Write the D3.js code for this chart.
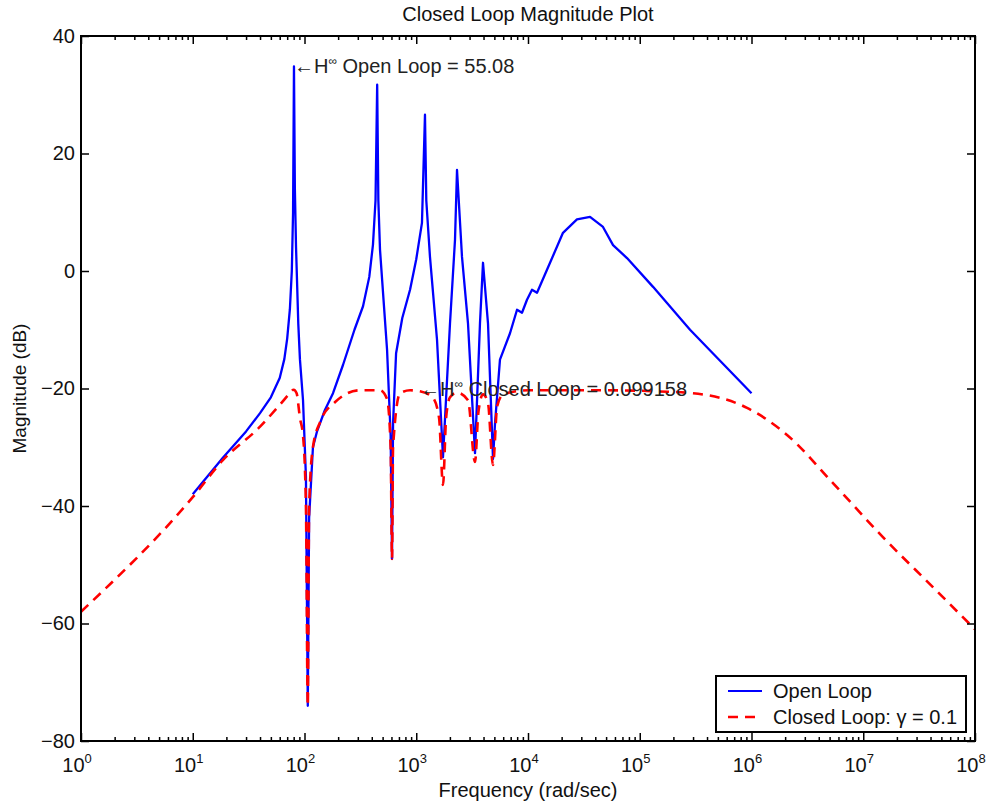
<!DOCTYPE html>
<html>
<head>
<meta charset="utf-8">
<script src="https://cdn.jsdelivr.net/npm/d3@7"></script>
<style>
	body { margin: 0; background: #fff; }
	svg text { font-family: "Liberation Sans", Arial, sans-serif; fill: #111; }
</style>
</head>
<body>
<div id="chart"></div>
<script>
// open loop (blue) - frequency in rad/sec, magnitude in dB
const open_freq = [10, 18.6, 30, 40, 50, 60, 66, 70, 74, 77, 79, 80.5, 82, 84, 88, 91, 97, 103, 107, 110, 119, 129, 152, 180, 221, 280, 334, 380, 410, 432, 447, 458, 474, 510, 548, 590, 607, 620, 660, 750, 880, 1000, 1125, 1197, 1230, 1327, 1534, 1735, 2005, 2222, 2316, 2567, 2904, 3356, 3718, 3957, 4386, 4862, 5070, 5612, 6902, 7977, 8837, 9795, 10860, 12040, 14790, 20560, 27420, 35890, 46900, 57680, 76900, 131500, 281800, 1000000];
const open_db = [-38, -31.8, -27.3, -24.2, -21.5, -18.2, -15, -11.5, -6.5, 0, 10, 34.82, 14, 4, -9, -15, -22, -35, -74, -42, -30, -27.4, -23.7, -20.8, -16, -10, -6, -1, 4.5, 12, 31.7, 12, 3.6, -5, -13.4, -28, -49, -26, -14, -8, -3.2, 2, 8.2, 26.6, 12, 2.4, -11.7, -31.7, -8.9, 5.3, 17.2, 2.4, -8.9, -31, -8.9, 1.4, -8.9, -32, -25.9, -15.1, -10.6, -6.6, -7.1, -4.9, -3.2, -3.7, 0.2, 6.5, 8.8, 9.2, 7.5, 4.4, 2.2, -2.7, -10, -20.8];

// closed loop (red dashed)
const closed_freq = [1, 10, 18.6, 40, 60, 74, 80, 85, 91, 97, 103, 107, 110, 119, 138, 188, 314, 474, 548, 590, 607, 620, 716, 880, 1100, 1400, 1600, 1735, 1850, 2005, 2316, 2904, 3356, 3600, 3957, 4386, 4862, 5300, 6000, 10000, 50000, 150000, 300000, 912000, 2080000, 5360000, 15000000, 42000000, 100000000];
const closed_db = [-58, -38.5, -32.2, -26.5, -22.8, -20.8, -20.2, -20.8, -25, -28, -40, -74, -40, -30, -25.7, -22.3, -20.3, -20.3, -21.8, -30, -49, -30, -20.8, -20.3, -20.5, -21.5, -25, -36.4, -25, -21.5, -20.7, -22, -32.5, -24, -21, -22.5, -33, -23, -21, -20.3, -20.3, -20.5, -20.8, -23.3, -27.9, -36.1, -45.3, -53.8, -61];

// axes
const x_domain = [1, 1e8];
const y_ticks = [-80, -60, -40, -20, 0, 20, 40];
const decades = [0, 1, 2, 3, 4, 5, 6, 7, 8];

// text labels
const title = "Closed Loop Magnitude Plot";
const x_label = "Frequency (rad/sec)";
const y_label = "Magnitude (dB)";
const legend_labels = ["Open Loop", "Closed Loop: \u03b3 = 0.1"];

// H-infinity annotations: [frequency, dB, text]
const notes = [
	[80.5, 34.82, " Open Loop = 55.08"],
	[1080, -20.07, " Closed Loop = 0.099158"]
];

class mag_chart {

	constructor(opts) {
		this.element = opts.element;
		this.draw();
	}

	draw() {
		this.margin = {
			top: 36,
			right: 17,
			bottom: 64,
			left: 81};

		this.width = 992 - this.margin.left - this.margin.right;
		this.height = 805 - this.margin.top - this.margin.bottom;

		var anchor = d3.select(this.element);
		anchor.html("");

		this.root = anchor.append("svg")
					.attr("width", 992)
					.attr("height", 805);
		this.svg = this.root.append("g")
					.attr("transform", `translate(${this.margin.left},${this.margin.top})`);

		this.create_scales();
		this.create_shapes();
		this.create_axes();
		this.create_labels();
		this.create_legend();
	}

	create_scales() {
		this.x_scale = d3.scaleLog()
						.domain(x_domain)
						.range([0, this.width]);

		this.y_scale = d3.scaleLinear()
						.domain([-80, 40])
						.range([this.height, 0]);
	}

	create_axes() {
		let x = this.x_scale;
		let all_ticks = x.ticks();
		let major = all_ticks.filter((d) => Math.abs(Math.log10(d) - Math.round(Math.log10(d))) < 1e-9);
		let minor = all_ticks.filter((d) => major.indexOf(d) < 0);

		// minor + major ticks on bottom and top, pointing inward
		let sides = [
			[d3.axisBottom, this.height],
			[d3.axisTop, 0]
		];
		sides.forEach(([ax, ty]) => {
			this.svg.append("g")
				.attr("class", "x minor")
				.attr("transform", `translate(0,${ty})`)
				.call(ax(x).tickValues(minor).tickSize(-4).tickFormat(""));
			this.svg.append("g")
				.attr("class", "x major")
				.attr("transform", `translate(0,${ty})`)
				.call(ax(x).tickValues(major).tickSize(-8).tickFormat(""));
		});

		this.svg.append("g")
			.attr("class", "y axis")
			.call(d3.axisLeft(this.y_scale).tickValues(y_ticks).tickSize(-8).tickPadding(6))
			.selectAll("text")
			.style("font-size", "20px");

		this.svg.append("g")
			.attr("class", "y axis")
			.attr("transform", `translate(${this.width},0)`)
			.call(d3.axisRight(this.y_scale).tickValues(y_ticks).tickSize(-8).tickFormat(""));

		this.svg.selectAll(".domain").remove();
		this.svg.selectAll(".tick line")
			.attr("stroke", "#000")
			.attr("stroke-width", 1.5);

		// box
		this.svg.append("rect")
			.attr("width", this.width)
			.attr("height", this.height)
			.attr("fill", "none")
			.attr("stroke", "#000")
			.attr("stroke-width", 2);

		// 10^k labels
		let lab = this.svg.append("g").selectAll("text")
			.data(decades)
			.enter()
			.append("text")
			.attr("x", (d) => x(Math.pow(10, d)) - 4)
			.attr("y", this.height + 31)
			.attr("text-anchor", "middle")
			.style("font-size", "20px");
		lab.append("tspan").text("10");
		lab.append("tspan")
			.attr("dy", -9)
			.style("font-size", "13px")
			.text((d) => d);
	}

	create_shapes() {
		let x = this.x_scale;
		let y = this.y_scale;

		let open_pts = open_freq.map((f, i) => [f, open_db[i]]);
		let closed_pts = closed_freq.map((f, i) => [f, closed_db[i]]);

		let line = d3.line()
			.x((d) => x(d[0]))
			.y((d) => y(d[1]));

		this.svg.append("path")
			.datum(open_pts)
			.attr("d", line)
			.attr("fill", "none")
			.attr("stroke", "#0000ff")
			.attr("stroke-width", 2.3)
			.attr("stroke-linejoin", "round");

		this.svg.append("path")
			.datum(closed_pts)
			.attr("d", line.curve(d3.curveMonotoneX))
			.attr("fill", "none")
			.attr("stroke", "#ff0000")
			.attr("stroke-width", 2.6)
			.attr("stroke-dasharray", "10,7");

		// annotations
		notes.forEach(([f, v, txt]) => {
			let t = this.svg.append("text")
				.attr("x", x(f))
				.attr("y", y(v) + 7)
				.style("font-size", "20px")
				.style("fill", "#222");
			t.append("tspan").text("\u2190H");
			t.append("tspan")
				.attr("dy", -8)
				.style("font-size", "12px")
				.text("\u221e");
			t.append("tspan")
				.attr("dy", 8)
				.text(txt);
		});
	}

	create_labels() {
		this.root.append("text")
			.attr("x", this.margin.left + this.width / 2)
			.attr("y", 21)
			.attr("text-anchor", "middle")
			.style("font-size", "20px")
			.text(title);

		this.root.append("text")
			.attr("x", this.margin.left + this.width / 2)
			.attr("y", 797)
			.attr("text-anchor", "middle")
			.style("font-size", "20px")
			.text(x_label);

		this.root.append("text")
			.attr("transform", `translate(26,${this.margin.top + this.height / 2}) rotate(-90)`)
			.attr("text-anchor", "middle")
			.style("font-size", "19px")
			.text(y_label);
	}

	create_legend() {
		let lg = this.root.append("g")
			.attr("transform", "translate(716,676)");

		lg.append("rect")
			.attr("width", 250)
			.attr("height", 56)
			.attr("fill", "#fff")
			.attr("stroke", "#000")
			.attr("stroke-width", 2);

		let styles = [
			{color: "#0000ff", dash: null, w: 2},
			{color: "#ff0000", dash: "10,7", w: 2.6}
		];

		legend_labels.forEach((name, i) => {
			let yy = 15 + i * 26;
			lg.append("line")
				.attr("x1", 12)
				.attr("x2", 46)
				.attr("y1", yy)
				.attr("y2", yy)
				.attr("stroke", styles[i].color)
				.attr("stroke-width", styles[i].w)
				.attr("stroke-dasharray", styles[i].dash);
			lg.append("text")
				.attr("x", 57)
				.attr("y", yy + 7)
				.style("font-size", "20px")
				.text(name);
		});
	}
}

new mag_chart({element: "#chart"});
</script>
</body>
</html>
